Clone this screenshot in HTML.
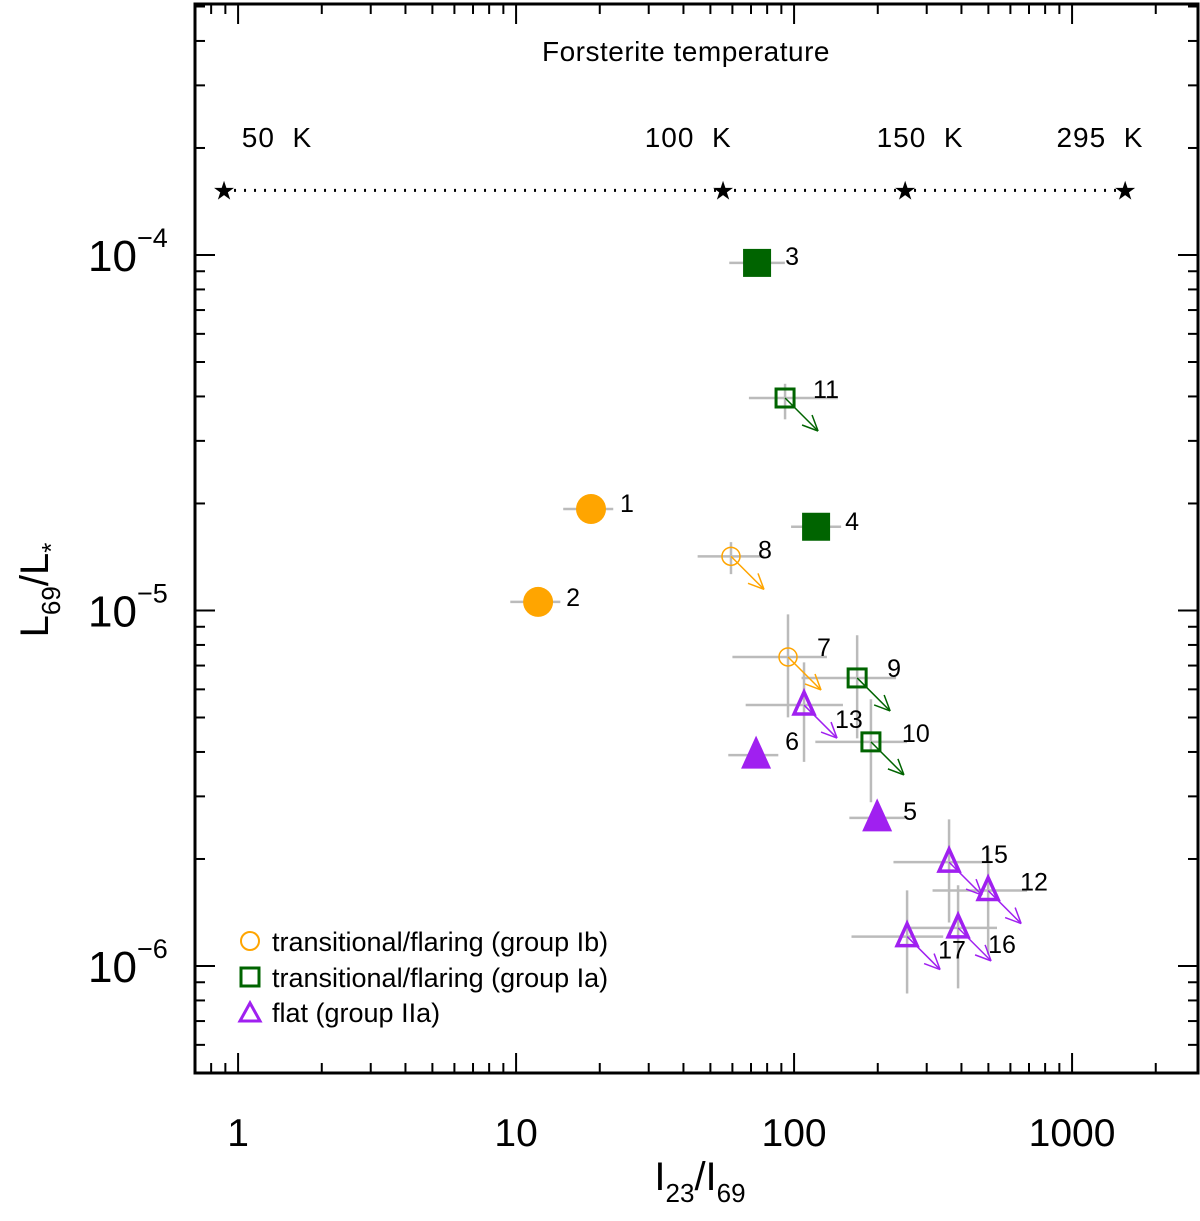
<!DOCTYPE html>
<html><head><meta charset="utf-8"><style>
body{margin:0;background:#fff}
svg{display:block}
text{font-family:"Liberation Sans",sans-serif;fill:#000}
</style></head><body>
<svg id="chart" width="1200" height="1221" viewBox="0 0 1200 1221" xmlns="http://www.w3.org/2000/svg">
<rect x="0" y="0" width="1200" height="1221" fill="#fff"/>
<g id="axes"></g>
<g id="errs"></g>
<g id="marks"></g>
<g id="labels"></g>
<text x="686" y="61" font-size="28" text-anchor="middle" letter-spacing="0.5">Forsterite temperature</text>
<g>
<circle cx="250" cy="941" r="9" fill="none" stroke="#FFA500" stroke-width="2"/>
<text x="272" y="951" font-size="27">transitional/flaring (group Ib)</text>
<rect x="241" y="968" width="18" height="18" fill="none" stroke="#006400" stroke-width="3"/>
<text x="272" y="987" font-size="27">transitional/flaring (group Ia)</text>
<polygon points="250,1003 260,1021 240,1021" fill="none" stroke="#A020F0" stroke-width="3"/>
<text x="272" y="1022" font-size="27">flat (group IIa)</text>
</g>
<g>
<text transform="translate(48,590) rotate(-90)" font-size="40" text-anchor="middle">L<tspan font-size="26" dy="12">69</tspan><tspan dy="-12">/L</tspan><tspan font-size="26" dy="12">*</tspan></text>
</g>
<g>
<text x="700" y="1190" font-size="40" text-anchor="middle">I<tspan font-size="26" dy="12">23</tspan><tspan dy="-12">/I</tspan><tspan font-size="26" dy="12">69</tspan></text>
</g>
</svg>
<script>
// ---- data ----
const ids   = ['1','2','3','4','11','9','10','8','7','13','15','12','17','16','6','5'];
const xVals = [18.6,12.0,73.6,120,92.8,168.6,189,59.3,95.1,108.6,361,499,255,389,73,199];
const yVals = [1.93e-5,1.057e-5,9.5e-5,1.72e-5,3.96e-5,6.46e-6,4.27e-6,1.42e-5,7.4e-6,5.42e-6,1.96e-6,1.63e-6,1.21e-6,1.28e-6,3.92e-6,2.61e-6];
const groups= ['Ib','Ib','Ia','Ia','Ia','Ia','Ia','Ib','Ib','IIa','IIa','IIa','IIa','IIa','IIa','IIa'];
const filled= [1,1,1,1,0,0,0,0,0,0,0,0,0,0,1,1];
const upperLimit=[0,0,0,0,1,1,1,1,1,1,1,1,1,1,0,0];
// errors in dex (log10 units)
const xErrLo=[0.10,0.10,0.10,0.09,0.13,0.20,0.20,0.12,0.20,0.21,0.20,0.20,0.20,0.18,0.10,0.10];
const xErrHi=[0.08,0.08,0.10,0.09,0.19,0.14,0.13,0.12,0.14,0.14,0.15,0.14,0.13,0.14,0.08,0.10];
const yErrLo=[0,0,0,0,0.06,0.17,0.17,0.05,0.17,0.16,0.17,0.18,0.16,0.17,0,0];
const yErrHi=[0,0,0,0,0.04,0.12,0.12,0.04,0.12,0.12,0.12,0.12,0.13,0.12,0,0];
// label placement (pixel offsets from point)
const labDx=[29,28,28,29,28,30,31,27,29,31,31,32,31,30,29,26];
const labDy=[3,4,2,3,0,-1,0,2,-1,23,1,0,22,25,-5,2];
const starX=[0.89,55.5,251,1552];
const starY=1.52e-4;
const tempLabels=['50 K','100 K','150 K','295 K'];
const tempLabelX=[1.38,41.6,284,1260];
const xTickVals=[1,10,100,1000];
const xTickLabels=['1','10','100','1000'];
const yTickExps=[-4,-5,-6];
// ---- scales ----
const X0=195,X1=1198,Y0=4,Y1=1073;
const xmin=-0.155,xmax=3.453,ymin=-6.301,ymax=-3.294;
const sx=v=>X0+(Math.log10(v)-xmin)/(xmax-xmin)*(X1-X0);
const sy=v=>Y1-(Math.log10(v)-ymin)/(ymax-ymin)*(Y1-Y0);
const sxl=l=>X0+(l-xmin)/(xmax-xmin)*(X1-X0);
const syl=l=>Y1-(l-ymin)/(ymax-ymin)*(Y1-Y0);
const NS='http://www.w3.org/2000/svg';
function mk(tag,attrs,parent){const e=document.createElementNS(NS,tag);for(const k in attrs)e.setAttribute(k,attrs[k]);parent.appendChild(e);return e;}
const axes=document.getElementById('axes');
const frame=mk('rect',{x:X0,y:Y0,width:X1-X0,height:Y1-Y0,fill:'none',stroke:'#000','stroke-width':3},axes);


for(let d=-1;d<=3;d++){for(let m=1;m<=9;m++){const l=d+Math.log10(m);if(l<xmin||l>xmax)continue;const x=sxl(l);const len=m==1?20:10;
 const t1=mk('line',{x1:x,y1:Y1,x2:x,y2:Y1-len,stroke:'#000','stroke-width':2},axes);
 
 
 const t2=mk('line',{x1:x,y1:Y0,x2:x,y2:Y0+len,stroke:'#000','stroke-width':2},axes);
 
 }}
xTickVals.forEach((v,i)=>{const t=mk('text',{x:sx(v),y:1146,'font-size':39,'text-anchor':'middle'},axes);t.textContent=xTickLabels[i];
 
 });
for(let d=-7;d<=-3;d++){for(let m=1;m<=9;m++){const l=d+Math.log10(m);if(l<ymin||l>ymax)continue;const y=syl(l);const len=m==1?20:10;
 const t1=mk('line',{x1:X0,y1:y,x2:X0+len,y2:y,stroke:'#000','stroke-width':2},axes);
 
 
 const t2=mk('line',{x1:X1,y1:y,x2:X1-len,y2:y,stroke:'#000','stroke-width':2},axes);
 
 }}
yTickExps.forEach(e=>{const y=syl(e);const t=mk('text',{x:88,y:y+16,'font-size':44},axes);
 t.innerHTML='10<tspan font-size="27" dy="-24">\u2212'+(-e)+'</tspan>';
 
 });
const py=sy(starY);
const tl=mk('line',{x1:sx(starX[0]),y1:py,x2:sx(starX[3]),y2:py,stroke:'#000','stroke-width':3,'stroke-dasharray':'2 8'},axes);


starX.forEach((v,i)=>{const s=mk('text',{x:sx(v),y:py+9,'font-size':26,'text-anchor':'middle'},axes);s.textContent='\u2605';
 
 
 const t=mk('text',{x:sx(tempLabelX[i]),y:147,'font-size':28,'text-anchor':'middle','letter-spacing':'1'},axes);t.textContent=tempLabels[i].replace(' ','\u00a0\u00a0');
 
 });
const col={Ib:'#FFA500',Ia:'#006400',IIa:'#A020F0'};
const errs=document.getElementById('errs'),marks=document.getElementById('marks'),labels=document.getElementById('labels');
ids.forEach((id,i)=>{const lx=Math.log10(xVals[i]),ly=Math.log10(yVals[i]);const x=sx(xVals[i]),y=sy(yVals[i]);const c=col[groups[i]];
 const eh=mk('line',{x1:sxl(lx-xErrLo[i]),y1:y,x2:sxl(lx+xErrHi[i]),y2:y,stroke:'#bbb','stroke-width':2.5},errs);
 
 
 if(yErrLo[i]||yErrHi[i]){const ev=mk('line',{x1:x,y1:syl(ly-yErrLo[i]),x2:x,y2:syl(ly+yErrHi[i]),stroke:'#bbb','stroke-width':2.5},errs);
  
  }
 let m;const f=filled[i];
 if(groups[i]=='Ib'){m=f?mk('circle',{cx:x,cy:y,r:15,fill:c},marks):mk('circle',{cx:x,cy:y,r:9,fill:'none',stroke:c,'stroke-width':1.5},marks);}
 else if(groups[i]=='Ia'){const s=f?28:18;m=mk('rect',{x:x-s/2,y:y-s/2,width:s,height:s,fill:f?c:'none',stroke:c,'stroke-width':f?0:3},marks);}
 else{const h=f?15:10;m=mk('polygon',{points:`${x},${y-h*1.3} ${x+h},${y+h*0.9} ${x-h},${y+h*0.9}`,fill:f?c:'none',stroke:c,'stroke-width':f?0:3.5},marks);}
 
 
 if(upperLimit[i]){const g=mk('g',{stroke:c,'stroke-width':1.5,fill:'none'},marks);
  
  
  const ex=x+33,ey=y+33;mk('line',{x1:x,y1:y,x2:ex,y2:ey},g);
  mk('line',{x1:ex,y1:ey,x2:ex-16,y2:ey-6},g);mk('line',{x1:ex,y1:ey,x2:ex-6,y2:ey-16},g);}
 const t=mk('text',{x:x+labDx[i],y:y+labDy[i],'font-size':25},labels);
 t.textContent=id;
 
 });
</script>
</body></html>
